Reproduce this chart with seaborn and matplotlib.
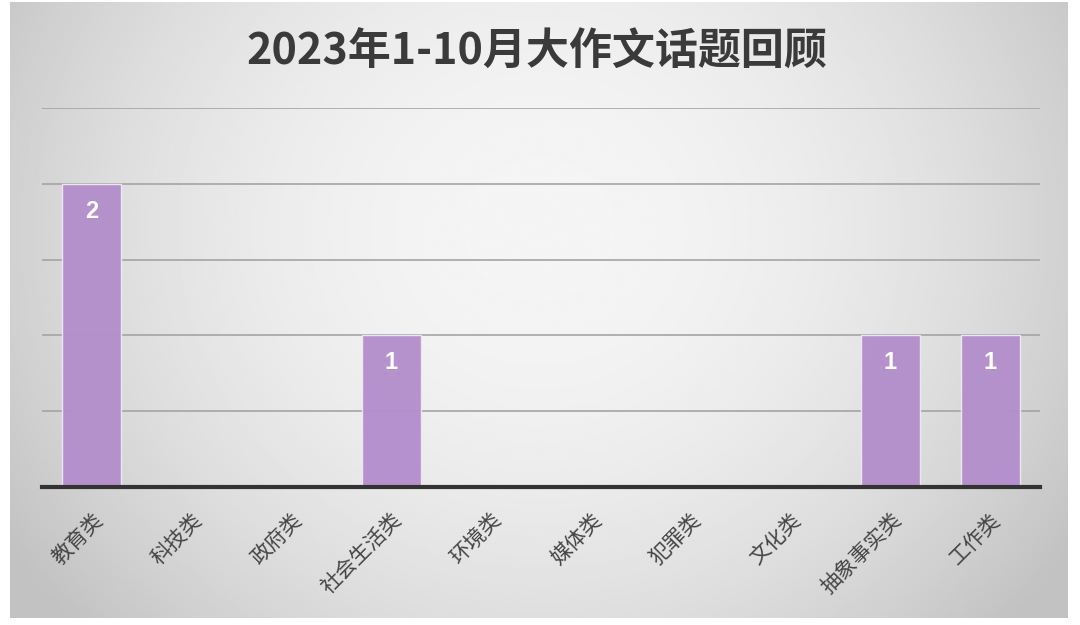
import numpy as np
import pandas as pd
import seaborn as sns
import matplotlib.pyplot as plt

categories = ['教育类', '科技类', '政府类', '社会生活类', '环境类',
              '媒体类', '犯罪类', '文化类', '抽象事实类', '工作类']
counts = [2, 0, 0, 1, 0, 0, 0, 0, 1, 1]
title = '2023年1-10月大作文话题回顾'

df = pd.DataFrame({'topic': categories, 'count': counts})

sns.set_theme(style='white')
plt.rcParams['font.family'] = ['Noto Sans CJK SC', 'DejaVu Sans']

fig = plt.figure(figsize=(10.8, 6.25), dpi=100)
fig.patch.set_facecolor('white')

# grey panel with a soft radial gradient, brightest around the upper middle
bg = fig.add_axes([10 / 1080, 7 / 625, 1058 / 1080, 616 / 625])
xx, yy = np.meshgrid(np.linspace(10, 1068, 400), np.linspace(2, 618, 240))
r = np.sqrt(((xx - 540) / 600) ** 2 + ((yy - 230) / 560) ** 2)
shade = 0.96 - 0.18 * np.clip(r, 0, 1.05) ** 2
bg.imshow(shade, cmap='gray', vmin=0, vmax=1, aspect='auto',
          extent=[0, 1, 0, 1], interpolation='bilinear')
bg.set_axis_off()

ax = fig.add_axes([42 / 1080, (625 - 487) / 625, 998 / 1080, (487 - 108) / 625])
ax.patch.set_alpha(0)

sns.barplot(data=df, x='topic', y='count', color='#b48fcc', saturation=1,
            width=0.59, alpha=0.97, edgecolor='#eee8f2', linewidth=1,
            ax=ax, zorder=3)

ax.set_ylim(0, 2.5)
ax.set_xlim(-0.5, len(categories) - 0.5)
ax.set_yticks(np.arange(0.5, 2.51, 0.5))
ax.yaxis.grid(True, color='#a4a4a4', linewidth=1.2, zorder=0)
ax.set_axisbelow(True)
ax.tick_params(axis='y', left=False, labelleft=False)
ax.tick_params(axis='x', bottom=False, pad=10)
for side in ['top', 'right', 'left']:
    ax.spines[side].set_visible(False)
ax.spines['bottom'].set_color('#333333')
ax.spines['bottom'].set_linewidth(3)
ax.spines['bottom'].set_zorder(5)
ax.set_xlabel('')
ax.set_ylabel('')

for lbl in ax.get_xticklabels():
    lbl.set_rotation(45)
    lbl.set_ha('right')
    lbl.set_rotation_mode('anchor')
    lbl.set_fontsize(15)
    lbl.set_color('#444444')
    lbl.set_fontweight('light')

# value labels inside the bars
for bar in ax.patches:
    h = bar.get_height()
    if h > 0:
        ax.text(bar.get_x() + bar.get_width() / 2, h - 0.18, f'{h:.0f}',
                ha='center', va='center', color='white', fontsize=17,
                fontweight='bold', family=['Liberation Sans', 'DejaVu Sans'],
                zorder=6)

fig.text(0.497, 0.918, title, ha='center', va='center', fontsize=31,
         fontweight='bold', color='#3a3a3a')

fig.savefig('out.png', dpi=100)
